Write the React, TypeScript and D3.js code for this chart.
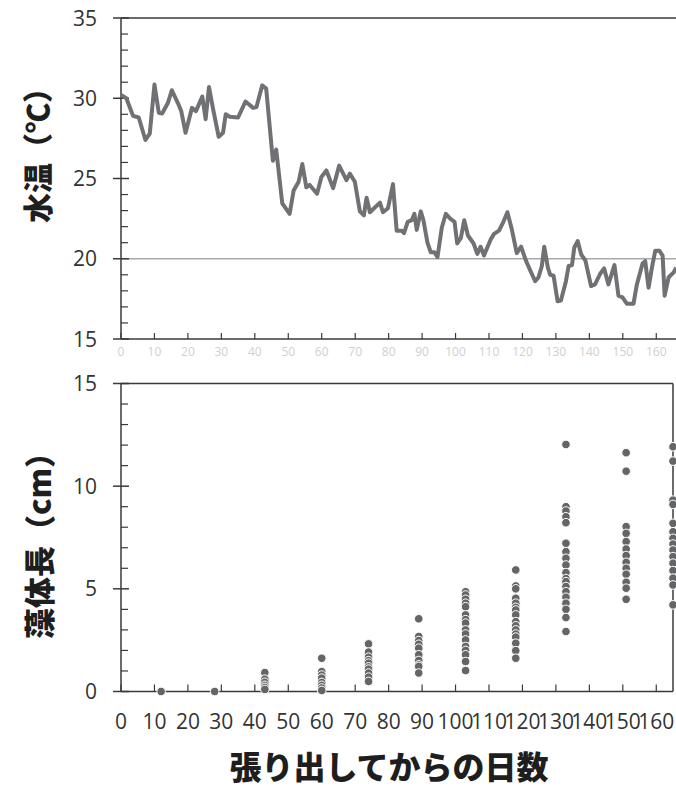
import * as d3 from "d3"

// water temperature (daily line, top panel)
const tempDays = [
  0, 1.6, 3.6, 5.3, 7.3, 8.6, 10, 11.3, 12.3, 14, 15.2, 17, 18, 19.3, 21.2, 22.4, 24.3, 25.3, 26.3, 27.5,
  29.2, 30.5, 31.3, 32.5, 35, 37.2, 39.5, 40.5, 42.2, 43.4, 45.4, 46.4, 48.2, 50.4, 51.6, 53.1, 54.2, 55.4, 56.4, 58.6,
  59.9, 61.4, 63.4, 65.2, 67.4, 68.4, 69.9, 71.4, 72.6, 73.4, 74.4, 77.4, 78.3, 79.8, 81.3, 82.4, 83.9, 84.6, 85.7, 86.9,
  87.7, 88.4, 89.6, 90.4, 91.6, 92.6, 93.7, 94.6, 95.9, 97.1, 98.4, 99.7, 100.5, 101.6, 102.6, 103.7, 105.4, 106.5, 107.5, 108.5,
  110.5, 111.5, 113, 114.3, 115.5, 116.8, 118.3, 119.6, 121, 122.8, 123.8, 124.8, 125.8, 126.5, 127.6, 128.3, 129.3, 130.5, 131.5, 133,
  133.8, 134.8, 135.5, 136.5, 137.6, 138.8, 140.5, 141.7, 143.2, 144.4, 145.7, 147.5, 148.7, 149.9, 151.2, 153.2, 154.2, 155.9, 156.7, 157.7,
  158.7, 159.7, 160.9, 161.9, 162.5, 163.7, 165.2, 166,
]
const waterTemp = [
  30.2, 30.0, 28.9, 28.8, 27.4, 27.8, 30.85, 29.1, 29.05, 29.7, 30.5, 29.7, 29.2, 27.85, 29.4, 29.2, 30.1, 28.7, 30.7, 29.35,
  27.6, 27.85, 29.0, 28.85, 28.8, 29.8, 29.4, 29.45, 30.8, 30.6, 26.1, 26.8, 23.45, 22.8, 24.25, 24.8, 25.9, 24.45, 24.6, 24.05,
  25.1, 25.5, 24.4, 25.8, 24.9, 25.3, 24.8, 22.95, 22.7, 23.8, 22.9, 23.5, 22.9, 23.15, 24.65, 21.75, 21.75, 21.6, 22.3, 22.4,
  22.8, 21.8, 22.95, 22.4, 21.0, 20.4, 20.4, 20.1, 21.95, 22.8, 22.5, 22.3, 20.95, 21.3, 22.4, 21.45, 20.95, 20.3, 20.75, 20.2,
  21.2, 21.55, 21.75, 22.3, 22.9, 21.85, 20.35, 20.75, 19.9, 19.05, 18.6, 18.85, 19.55, 20.75, 19.45, 19.0, 18.95, 17.35, 17.4, 18.6,
  19.55, 19.6, 20.7, 21.1, 20.25, 19.9, 18.3, 18.4, 19.05, 19.4, 18.4, 19.6, 17.7, 17.6, 17.2, 17.2, 18.4, 19.7, 19.85, 18.2,
  19.45, 20.5, 20.5, 20.2, 17.7, 18.85, 19.15, 19.45,
]

// thallus length samples (bottom panel)
const sampleDays = [12, 28, 43, 60, 74, 89, 103, 118, 133, 151, 165]
const thallusLength = [
  [0],
  [0],
  [0.92, 0.6, 0.45, 0.3, 0.2, 0.1],
  [1.62, 0.97, 0.8, 0.65, 0.44, 0.3, 0.17, 0.05],
  [2.32, 1.92, 1.67, 1.5, 1.38, 1.2, 1.09, 0.9, 0.7, 0.49],
  [3.54, 2.68, 2.48, 2.3, 2.11, 1.79, 1.51, 1.3, 1.22, 0.9],
  [4.86, 4.7, 4.49, 4.3, 4.13, 3.73, 3.5, 3.33, 3.0, 2.8, 2.51, 2.19, 2.0, 1.79, 1.46, 1.02],
  [5.92, 5.14, 5.0, 4.54, 4.3, 4.1, 3.97, 3.73, 3.4, 3.2, 3.0, 2.8, 2.65, 2.35, 1.99, 1.62],
  [12.03, 9.0, 8.79, 8.51, 8.22, 7.22, 6.81, 6.49, 6.16, 5.79, 5.5, 5.35, 5.11, 4.86, 4.59, 4.3, 4.0, 3.6, 2.92],
  [11.63, 10.73, 8.03, 7.7, 7.3, 6.94, 6.62, 6.29, 6.0, 5.71, 5.32, 5.03, 4.49],
  [11.92, 11.22, 9.32, 9.11, 8.19, 7.78, 7.46, 7.18, 6.89, 6.57, 6.25, 5.89, 5.52, 5.19, 4.22],
]

const dayTicks = d3.range(0, 161, 10)
const tempTicks = [15, 20, 25, 30, 35]
const lengthTicks = [0, 5, 10, 15]
const refTemp = 20

const W = 676
const H = 791
const axisColor = "#3a3a3a"
const numFont = "'Open Sans', sans-serif"
const jpFont = "'Noto Sans CJK JP', sans-serif"

const App = () => {
  const left = 121
  const x = d3.scaleLinear().domain([0, 165]).range([left, 673])

  const yT = d3.scaleLinear().domain([15, 35]).range([339, 18])
  const yB = d3.scaleLinear().domain([0, 15]).range([691.5, 383.5])

  const line = d3
    .line<number>()
    .x((d, i) => x(tempDays[i]))
    .y((d) => yT(d))

  const points = sampleDays.flatMap((d, i) =>
    thallusLength[i].map((v) => ({ day: d, value: v }))
  )

  const minorT = d3.range(15, 36, 1).filter((v) => v % 5 !== 0)
  const minorB = d3.range(0, 16, 1).filter((v) => v % 5 !== 0)

  return (
    <div style={{ position: "absolute", left: 0, top: 0 }}>
      <svg width={W} height={H} style={{ display: "block", background: "#fff" }}>
        {/* ---------- top panel: water temperature ---------- */}
        <line x1={left} x2={W} y1={yT(refTemp)} y2={yT(refTemp)} stroke="#a8a8a8" strokeWidth={1.5} />
        <line x1={left} x2={W} y1={yT(35)} y2={yT(35)} stroke={axisColor} strokeWidth={1.5} />
        <line x1={left} x2={W} y1={yT(15)} y2={yT(15)} stroke={axisColor} strokeWidth={1.5} />
        <line x1={left} x2={left} y1={yT(35)} y2={yT(15)} stroke={axisColor} strokeWidth={1.5} />
        {tempTicks.map((t) => (
          <g key={t}>
            <line x1={left - 8} x2={left + 8} y1={yT(t)} y2={yT(t)} stroke={axisColor} strokeWidth={1.5} />
            <text x={97} y={yT(t)} dy="0.36em" textAnchor="end" fontFamily={numFont} fontSize={21} fill="#333">
              {t}
            </text>
          </g>
        ))}
        {minorT.map((t) => (
          <line key={t} x1={left} x2={left + 7} y1={yT(t)} y2={yT(t)} stroke={axisColor} strokeWidth={1.2} />
        ))}
        {dayTicks.map((d) => (
          <g key={d}>
            <line x1={x(d)} x2={x(d)} y1={yT(15)} y2={yT(15) - 6} stroke={axisColor} strokeWidth={1.2} />
            <text x={x(d)} y={352} dy="0.35em" textAnchor="middle" fontFamily={numFont} fontSize={12} fill="#cfcfcf">
              {d}
            </text>
          </g>
        ))}
        <path d={line(waterTemp) || ""} fill="none" stroke="#707174" strokeWidth={4} strokeLinejoin="round" />
        <text
          transform={`translate(38,148) rotate(-90)`}
          textAnchor="middle"
          dy="0.35em"
          fontFamily={jpFont}
          fontWeight={900}
          fontSize={30}
          fill="#1e1e1e"
        >
          水温（℃）
        </text>

        {/* ---------- bottom panel: thallus length ---------- */}
        <line x1={left} x2={673} y1={yB(15)} y2={yB(15)} stroke={axisColor} strokeWidth={1.5} />
        <line x1={673} x2={673} y1={yB(15)} y2={yB(0)} stroke={axisColor} strokeWidth={1.5} />
        <line x1={left} x2={673} y1={yB(0)} y2={yB(0)} stroke={axisColor} strokeWidth={1.5} />
        <line x1={left} x2={left} y1={yB(15)} y2={yB(0)} stroke={axisColor} strokeWidth={1.5} />
        {lengthTicks.map((t) => (
          <g key={t}>
            <line x1={left - 8} x2={left + 8} y1={yB(t)} y2={yB(t)} stroke={axisColor} strokeWidth={1.5} />
            <text x={97} y={yB(t)} dy="0.36em" textAnchor="end" fontFamily={numFont} fontSize={21} fill="#333">
              {t}
            </text>
          </g>
        ))}
        {minorB.map((t) => (
          <line key={t} x1={left} x2={left + 7} y1={yB(t)} y2={yB(t)} stroke={axisColor} strokeWidth={1.2} />
        ))}
        {dayTicks.map((d) => (
          <g key={d}>
            <line x1={x(d)} x2={x(d)} y1={yB(0)} y2={yB(0) - 7} stroke={axisColor} strokeWidth={1.2} />
            <text x={x(d)} y={722} dy="0.35em" textAnchor="middle" fontFamily={numFont} fontSize={21} fill="#333">
              {d}
            </text>
          </g>
        ))}
        {points.map((p, i) => (
          <circle key={i} cx={x(p.day)} cy={yB(p.value)} r={4.3} fill="#646567" stroke="#fff" strokeWidth={1} />
        ))}
        <text
          transform={`translate(40,538) rotate(-90)`}
          textAnchor="middle"
          dy="0.35em"
          fontFamily={jpFont}
          fontWeight={900}
          fontSize={31}
          fill="#1e1e1e"
        >
          藻体長（cm）
        </text>
        <text
          x={389}
          y={768}
          dy="0.35em"
          textAnchor="middle"
          fontFamily={jpFont}
          fontWeight={900}
          fontSize={32}
          fill="#1e1e1e"
        >
          張り出してからの日数
        </text>
      </svg>
    </div>
  )
}

export default App
